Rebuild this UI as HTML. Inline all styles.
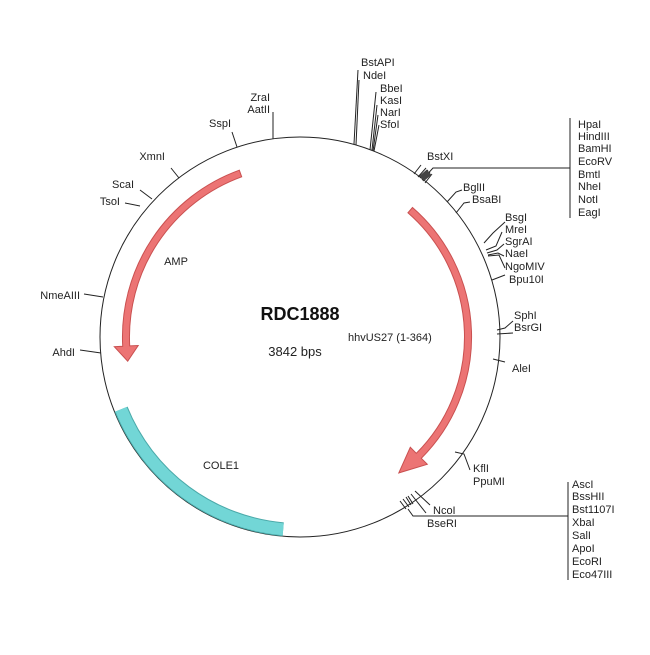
<!DOCTYPE html>
<html><head><meta charset="utf-8"><style>
html,body{margin:0;padding:0;background:#fff;}
svg text{font-family:"Liberation Sans",Arial,sans-serif;font-size:11px;fill:#222;}
</style></head><body>
<svg width="650" height="650" viewBox="0 0 650 650" xmlns="http://www.w3.org/2000/svg">
<rect width="650" height="650" fill="#fff"/>
<circle cx="300" cy="337" r="200" fill="none" stroke="#222" stroke-width="1"/>
<!-- COLE1 -->
<path d="M121.1,409.3 A193,193 0 0 0 283.2,529.3" fill="none" stroke="#4aa9a9" stroke-width="14"/>
<path d="M121.1,409.3 A193,193 0 0 0 283.2,529.3" fill="none" stroke="#72d6d6" stroke-width="12"/>
<!-- AMP -->
<path d="M239.3,170.2 A177.5,177.5 0 0 0 122.7,346.3 L114.3,346.7 L127.7,361.2 L138.2,345.5 L129.7,345.9 A170.5,170.5 0 0 1 241.7,176.8 Z" fill="#ec7474" stroke="#c95050" stroke-width="1"/>
<!-- hhvUS27 -->
<path d="M412.5,207.5 A171.5,171.5 0 0 1 421.3,458.3 L427.3,464.3 L398.8,472.9 L410.3,447.3 L416.3,453.3 A164.5,164.5 0 0 0 407.9,212.8 Z" fill="#ec7474" stroke="#c95050" stroke-width="1"/>

<g stroke="#222" stroke-width="1" fill="none">
<!-- top -->
<path d="M354,144 L358,70"/>
<path d="M356,145 L359,80"/>
<path d="M370,150 L376,92"/>
<path d="M372,150 L377,105"/>
<path d="M373,151 L378,115"/>
<path d="M374,151 L379,125"/>
<path d="M273,139 L273,112"/>
<path d="M237,147 L232,132"/>
<path d="M179,178 L171,168"/>
<path d="M152,199 L140,190"/>
<path d="M140,206 L125,203"/>
<path d="M103,297 L84,294"/>
<path d="M101,353 L80,350"/>
<!-- BstXI cluster -->
<path d="M414,174 L421,165"/>
<path d="M422,180 L433,168 L570,168"/>
<path d="M570,118 L570,218"/>
<path d="M418,177 L426,168"/><path d="M420,178 L428,170"/><path d="M423,181 L430,172"/><path d="M425,183 L432,174"/>
<!-- BglII BsaBI -->
<path d="M447,202 L456,192 L462,190"/>
<path d="M456,213 L464,203 L470,202"/>
<!-- BsgI group -->
<path d="M484,243 L493,233 L505,222"/>
<path d="M486,250 L496,246 L502,232"/>
<path d="M487,253 L497,250 L504,244"/>
<path d="M488,255 L498,253 L504,256"/>
<path d="M488,256 L499,255 L505,268"/>
<path d="M492,280 L505,275"/>
<!-- SphI BsrGI -->
<path d="M497,330 L505,328 L513,321"/>
<path d="M497,334 L513,333"/>
<!-- AleI -->
<path d="M493,359 L505,362"/>
<!-- KflI -->
<path d="M455,452 L464,454 L470,470"/>
<!-- bottom cluster -->
<path d="M400,501 L406,509"/><path d="M403,499 L409,507"/><path d="M406,497 L411,505"/><path d="M408,496 L413,504"/>
<path d="M411,494 L426,513"/>
<path d="M415,491 L430,505"/>
<path d="M408,509 L413,516 L568,516"/>
<path d="M568,482 L568,580"/>
</g>
<g fill="#444">
<rect x="420" y="172" width="10" height="7" transform="rotate(-40 425 175)"/>
</g>

<text x="361" y="66">BstAPI</text>
<text x="363" y="79">NdeI</text>
<text x="380" y="92">BbeI</text>
<text x="380" y="104">KasI</text>
<text x="380" y="116">NarI</text>
<text x="380" y="128">SfoI</text>
<text x="270" y="101" text-anchor="end">ZraI</text>
<text x="270" y="113" text-anchor="end">AatII</text>
<text x="231" y="127" text-anchor="end">SspI</text>
<text x="165" y="160" text-anchor="end">XmnI</text>
<text x="134" y="188" text-anchor="end">ScaI</text>
<text x="120" y="205" text-anchor="end">TsoI</text>
<text x="80" y="299" text-anchor="end">NmeAIII</text>
<text x="75" y="356" text-anchor="end">AhdI</text>
<text x="427" y="160">BstXI</text>
<text x="463" y="191">BglII</text>
<text x="472" y="203">BsaBI</text>
<text x="505" y="221">BsgI</text>
<text x="505" y="233">MreI</text>
<text x="505" y="245">SgrAI</text>
<text x="505" y="257">NaeI</text>
<text x="505" y="270">NgoMIV</text>
<text x="509" y="283">Bpu10I</text>
<text x="514" y="319">SphI</text>
<text x="514" y="331">BsrGI</text>
<text x="512" y="372">AleI</text>
<text x="473" y="472">KflI</text>
<text x="473" y="485">PpuMI</text>
<text x="433" y="514">NcoI</text>
<text x="427" y="527">BseRI</text>
<g>
<text x="578" y="128">HpaI</text>
<text x="578" y="140">HindIII</text>
<text x="578" y="152">BamHI</text>
<text x="578" y="165">EcoRV</text>
<text x="578" y="178">BmtI</text>
<text x="578" y="190">NheI</text>
<text x="578" y="203">NotI</text>
<text x="578" y="216">EagI</text>
</g>
<g>
<text x="572" y="488">AscI</text>
<text x="572" y="500">BssHII</text>
<text x="572" y="513">Bst1107I</text>
<text x="572" y="526">XbaI</text>
<text x="572" y="539">SalI</text>
<text x="572" y="552">ApoI</text>
<text x="572" y="565">EcoRI</text>
<text x="572" y="578">Eco47III</text>
</g>
<text x="300" y="320" text-anchor="middle" style="font-size:18px;font-weight:bold;fill:#111">RDC1888</text>
<text x="295" y="356" text-anchor="middle" style="font-size:13px">3842 bps</text>
<text x="176" y="265" text-anchor="middle">AMP</text>
<text x="348" y="341">hhvUS27 (1-364)</text>
<text x="221" y="469" text-anchor="middle">COLE1</text>
</svg>
</body></html>
